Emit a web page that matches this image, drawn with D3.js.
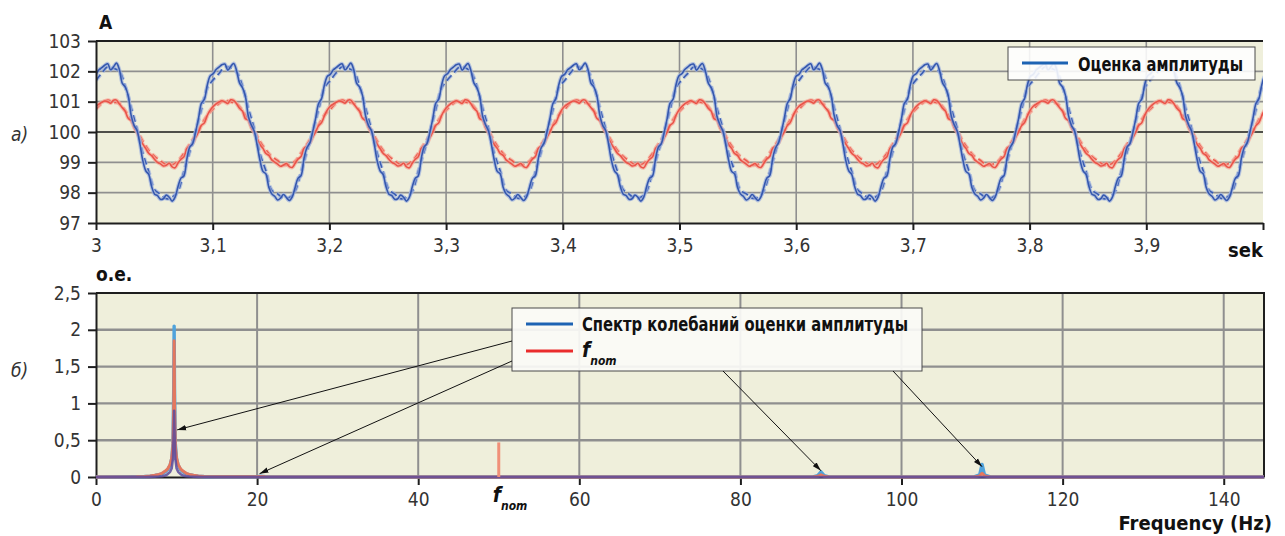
<!DOCTYPE html>
<html>
<head>
<meta charset="utf-8">
<script src="https://cdn.jsdelivr.net/npm/d3@7"></script>
<style>
    body { margin: 0; background: #ffffff; }
    svg { display: block; }
    .tick text { font-family: "Liberation Sans Narrow", "DejaVu Sans Condensed", sans-serif; font-size: 19px; fill: #333; }
    .bold-lbl { font-family: "Liberation Sans Narrow", "DejaVu Sans Condensed", sans-serif; font-weight: bold; fill: #111; }
    .side-lbl { font-family: "Liberation Sans Narrow", "DejaVu Sans Condensed", sans-serif; font-style: italic; font-size: 19px; fill: #333; }
</style>
</head>
<body>
<div id="chart"></div>
<script>
// ---------- data: top chart (amplitude estimate, A) ----------
const topTimeStart = 3.0;
const solidStep = 0.00251;   // seconds between samples of the solid curves
const dashedStep = 0.00502;  // seconds between samples of the dashed curves

const blueSolid = [
    101.90,102.05,102.12,102.20,102.25,102.05,102.15,102.27,102.05,101.60,101.48,101.20,100.55,100.22,100.05,99.60,99.05,98.72,98.60,98.20,97.95,97.90,97.78,97.80,97.92,97.85,97.72,97.85,98.20,98.48,98.55,99.10,99.50,99.62,100.00,100.45,100.95,101.08,101.55,101.85,
    101.92,102.06,102.14,102.22,102.24,102.04,102.16,102.26,102.02,101.62,101.46,101.18,100.52,100.24,100.03,99.58,99.06,98.70,98.62,98.18,97.96,97.88,97.76,97.82,97.94,97.84,97.74,97.86,98.18,98.48,98.56,99.12,99.48,99.64,100.02,100.46,100.94,101.10,101.56,101.84,
    101.90,102.05,102.12,102.20,102.25,102.05,102.15,102.27,102.05,101.60,101.48,101.20,100.55,100.22,100.05,99.60,99.05,98.72,98.60,98.20,97.95,97.90,97.78,97.80,97.92,97.85,97.72,97.85,98.20,98.48,98.55,99.10,99.50,99.62,100.00,100.45,100.95,101.08,101.55,101.85,
    101.92,102.06,102.14,102.22,102.24,102.04,102.16,102.26,102.02,101.62,101.46,101.18,100.52,100.24,100.03,99.58,99.06,98.70,98.62,98.18,97.96,97.88,97.76,97.82,97.94,97.84,97.74,97.86,98.18,98.48,98.56,99.12,99.48,99.64,100.02,100.46,100.94,101.10,101.56,101.84,
    101.90,102.05,102.12,102.20,102.25,102.05,102.15,102.27,102.05,101.60,101.48,101.20,100.55,100.22,100.05,99.60,99.05,98.72,98.60,98.20,97.95,97.90,97.78,97.80,97.92,97.85,97.72,97.85,98.20,98.48,98.55,99.10,99.50,99.62,100.00,100.45,100.95,101.08,101.55,101.85,
    101.92,102.06,102.14,102.22,102.24,102.04,102.16,102.26,102.02,101.62,101.46,101.18,100.52,100.24,100.03,99.58,99.06,98.70,98.62,98.18,97.96,97.88,97.76,97.82,97.94,97.84,97.74,97.86,98.18,98.48,98.56,99.12,99.48,99.64,100.02,100.46,100.94,101.10,101.56,101.84,
    101.90,102.05,102.12,102.20,102.25,102.05,102.15,102.27,102.05,101.60,101.48,101.20,100.55,100.22,100.05,99.60,99.05,98.72,98.60,98.20,97.95,97.90,97.78,97.80,97.92,97.85,97.72,97.85,98.20,98.48,98.55,99.10,99.50,99.62,100.00,100.45,100.95,101.08,101.55,101.85,
    101.92,102.06,102.14,102.22,102.24,102.04,102.16,102.26,102.02,101.62,101.46,101.18,100.52,100.24,100.03,99.58,99.06,98.70,98.62,98.18,97.96,97.88,97.76,97.82,97.94,97.84,97.74,97.86,98.18,98.48,98.56,99.12,99.48,99.64,100.02,100.46,100.94,101.10,101.56,101.84,
    101.90,102.05,102.12,102.20,102.25,102.05,102.15,102.27,102.05,101.60,101.48,101.20,100.55,100.22,100.05,99.60,99.05,98.72,98.60,98.20,97.95,97.90,97.78,97.80,97.92,97.85,97.72,97.85,98.20,98.48,98.55,99.10,99.50,99.62,100.00,100.45,100.95,101.08,101.55,101.85,
    101.92,102.06,102.14,102.22,102.24,102.04,102.16,102.26,102.02,101.62,101.46,101.18,100.52,100.24,100.03,99.58,99.06,98.70,98.62,98.18,97.96,97.88,97.76,97.82,97.94,97.84,97.74,97.86,98.18,98.48,98.56,99.12,99.48,99.64,100.02,100.46,100.94,101.10,101.56,101.84,
    101.90
];

const redSolid = [
    100.85,100.92,100.98,101.02,101.00,100.95,101.05,101.05,100.92,100.80,100.68,100.45,100.38,100.15,99.98,99.78,99.60,99.45,99.30,99.22,99.10,99.00,98.95,98.88,98.90,98.97,98.85,98.82,98.98,99.10,99.18,99.45,99.55,99.62,99.82,100.00,100.22,100.30,100.55,100.72,
    100.84,100.93,100.99,101.03,100.99,100.94,101.06,101.04,100.93,100.78,100.69,100.44,100.39,100.14,99.97,99.79,99.58,99.46,99.29,99.23,99.08,99.01,98.94,98.87,98.91,98.96,98.86,98.83,98.97,99.11,99.19,99.46,99.54,99.63,99.83,100.01,100.21,100.31,100.54,100.73,
    100.85,100.92,100.98,101.02,101.00,100.95,101.05,101.05,100.92,100.80,100.68,100.45,100.38,100.15,99.98,99.78,99.60,99.45,99.30,99.22,99.10,99.00,98.95,98.88,98.90,98.97,98.85,98.82,98.98,99.10,99.18,99.45,99.55,99.62,99.82,100.00,100.22,100.30,100.55,100.72,
    100.84,100.93,100.99,101.03,100.99,100.94,101.06,101.04,100.93,100.78,100.69,100.44,100.39,100.14,99.97,99.79,99.58,99.46,99.29,99.23,99.08,99.01,98.94,98.87,98.91,98.96,98.86,98.83,98.97,99.11,99.19,99.46,99.54,99.63,99.83,100.01,100.21,100.31,100.54,100.73,
    100.85,100.92,100.98,101.02,101.00,100.95,101.05,101.05,100.92,100.80,100.68,100.45,100.38,100.15,99.98,99.78,99.60,99.45,99.30,99.22,99.10,99.00,98.95,98.88,98.90,98.97,98.85,98.82,98.98,99.10,99.18,99.45,99.55,99.62,99.82,100.00,100.22,100.30,100.55,100.72,
    100.84,100.93,100.99,101.03,100.99,100.94,101.06,101.04,100.93,100.78,100.69,100.44,100.39,100.14,99.97,99.79,99.58,99.46,99.29,99.23,99.08,99.01,98.94,98.87,98.91,98.96,98.86,98.83,98.97,99.11,99.19,99.46,99.54,99.63,99.83,100.01,100.21,100.31,100.54,100.73,
    100.85,100.92,100.98,101.02,101.00,100.95,101.05,101.05,100.92,100.80,100.68,100.45,100.38,100.15,99.98,99.78,99.60,99.45,99.30,99.22,99.10,99.00,98.95,98.88,98.90,98.97,98.85,98.82,98.98,99.10,99.18,99.45,99.55,99.62,99.82,100.00,100.22,100.30,100.55,100.72,
    100.84,100.93,100.99,101.03,100.99,100.94,101.06,101.04,100.93,100.78,100.69,100.44,100.39,100.14,99.97,99.79,99.58,99.46,99.29,99.23,99.08,99.01,98.94,98.87,98.91,98.96,98.86,98.83,98.97,99.11,99.19,99.46,99.54,99.63,99.83,100.01,100.21,100.31,100.54,100.73,
    100.85,100.92,100.98,101.02,101.00,100.95,101.05,101.05,100.92,100.80,100.68,100.45,100.38,100.15,99.98,99.78,99.60,99.45,99.30,99.22,99.10,99.00,98.95,98.88,98.90,98.97,98.85,98.82,98.98,99.10,99.18,99.45,99.55,99.62,99.82,100.00,100.22,100.30,100.55,100.72,
    100.84,100.93,100.99,101.03,100.99,100.94,101.06,101.04,100.93,100.78,100.69,100.44,100.39,100.14,99.97,99.79,99.58,99.46,99.29,99.23,99.08,99.01,98.94,98.87,98.91,98.96,98.86,98.83,98.97,99.11,99.19,99.46,99.54,99.63,99.83,100.01,100.21,100.31,100.54,100.73,
    100.85
];

const blueDashed = [
    101.70,101.95,102.15,102.10,102.00,101.50,100.80,100.10,99.30,98.70,98.10,97.95,97.80,97.85,98.05,98.70,99.35,100.00,100.75,101.45,
    101.72,101.93,102.14,102.12,101.98,101.52,100.78,100.12,99.28,98.72,98.08,97.96,97.82,97.84,98.06,98.68,99.36,100.02,100.74,101.46,
    101.70,101.95,102.15,102.10,102.00,101.50,100.80,100.10,99.30,98.70,98.10,97.95,97.80,97.85,98.05,98.70,99.35,100.00,100.75,101.45,
    101.72,101.93,102.14,102.12,101.98,101.52,100.78,100.12,99.28,98.72,98.08,97.96,97.82,97.84,98.06,98.68,99.36,100.02,100.74,101.46,
    101.70,101.95,102.15,102.10,102.00,101.50,100.80,100.10,99.30,98.70,98.10,97.95,97.80,97.85,98.05,98.70,99.35,100.00,100.75,101.45,
    101.72,101.93,102.14,102.12,101.98,101.52,100.78,100.12,99.28,98.72,98.08,97.96,97.82,97.84,98.06,98.68,99.36,100.02,100.74,101.46,
    101.70,101.95,102.15,102.10,102.00,101.50,100.80,100.10,99.30,98.70,98.10,97.95,97.80,97.85,98.05,98.70,99.35,100.00,100.75,101.45,
    101.72,101.93,102.14,102.12,101.98,101.52,100.78,100.12,99.28,98.72,98.08,97.96,97.82,97.84,98.06,98.68,99.36,100.02,100.74,101.46,
    101.70,101.95,102.15,102.10,102.00,101.50,100.80,100.10,99.30,98.70,98.10,97.95,97.80,97.85,98.05,98.70,99.35,100.00,100.75,101.45,
    101.72,101.93,102.14,102.12,101.98,101.52,100.78,100.12,99.28,98.72,98.08,97.96,97.82,97.84,98.06,98.68,99.36,100.02,100.74,101.46,
    101.70
];

const redDashed = [
    100.75,100.95,101.05,100.98,100.95,100.70,100.40,100.05,99.70,99.40,99.20,99.05,98.92,98.92,99.05,99.30,99.60,99.90,100.25,100.55,
    100.76,100.94,101.04,100.99,100.94,100.71,100.39,100.06,99.69,99.41,99.19,99.06,98.91,98.93,99.04,99.31,99.59,99.91,100.24,100.56,
    100.75,100.95,101.05,100.98,100.95,100.70,100.40,100.05,99.70,99.40,99.20,99.05,98.92,98.92,99.05,99.30,99.60,99.90,100.25,100.55,
    100.76,100.94,101.04,100.99,100.94,100.71,100.39,100.06,99.69,99.41,99.19,99.06,98.91,98.93,99.04,99.31,99.59,99.91,100.24,100.56,
    100.75,100.95,101.05,100.98,100.95,100.70,100.40,100.05,99.70,99.40,99.20,99.05,98.92,98.92,99.05,99.30,99.60,99.90,100.25,100.55,
    100.76,100.94,101.04,100.99,100.94,100.71,100.39,100.06,99.69,99.41,99.19,99.06,98.91,98.93,99.04,99.31,99.59,99.91,100.24,100.56,
    100.75,100.95,101.05,100.98,100.95,100.70,100.40,100.05,99.70,99.40,99.20,99.05,98.92,98.92,99.05,99.30,99.60,99.90,100.25,100.55,
    100.76,100.94,101.04,100.99,100.94,100.71,100.39,100.06,99.69,99.41,99.19,99.06,98.91,98.93,99.04,99.31,99.59,99.91,100.24,100.56,
    100.75,100.95,101.05,100.98,100.95,100.70,100.40,100.05,99.70,99.40,99.20,99.05,98.92,98.92,99.05,99.30,99.60,99.90,100.25,100.55,
    100.76,100.94,101.04,100.99,100.94,100.71,100.39,100.06,99.69,99.41,99.19,99.06,98.91,98.93,99.04,99.31,99.59,99.91,100.24,100.56,
    100.75
];

const topXTicks = [3, 3.1, 3.2, 3.3, 3.4, 3.5, 3.6, 3.7, 3.8, 3.9, 4];
const topXLabels = ["3", "3,1", "3,2", "3,3", "3,4", "3,5", "3,6", "3,7", "3,8", "3,9", ""];
const topYTicks = [97, 98, 99, 100, 101, 102, 103];

// ---------- data: bottom chart (spectrum, o.e.) ----------
const specFreq   = [0, 5, 6, 6.7, 7.3, 7.8, 8.2, 8.6, 8.9, 9.2, 9.4, 9.55, 9.65, 9.7, 9.75, 9.85, 10.0, 10.2, 10.5, 10.8, 11.2, 11.6, 12.1, 12.7, 13.4, 15, 20, 20.4, 21, 30, 89, 89.6, 90, 90.4, 91, 109, 109.7, 110, 110.3, 111, 145];
const specBlue   = [0, 0.003, 0.006, 0.012, 0.02, 0.03, 0.045, 0.07, 0.1, 0.16, 0.25, 0.45, 1.2, 2.05, 1.2, 0.45, 0.25, 0.16, 0.1, 0.07, 0.045, 0.03, 0.02, 0.012, 0.006, 0.003, 0.004, 0.01, 0.003, 0.001, 0.002, 0.02, 0.07, 0.02, 0.002, 0.002, 0.03, 0.17, 0.03, 0.002, 0];
const specRed    = [0, 0.003, 0.007, 0.014, 0.024, 0.035, 0.05, 0.08, 0.11, 0.17, 0.26, 0.42, 1.0, 1.85, 1.0, 0.42, 0.26, 0.17, 0.11, 0.08, 0.05, 0.035, 0.024, 0.014, 0.007, 0.003, 0.003, 0.006, 0.002, 0.001, 0.001, 0.01, 0.03, 0.01, 0.001, 0.001, 0.015, 0.05, 0.015, 0.001, 0];
const specPurple = [0, 0, 0.001, 0.002, 0.004, 0.006, 0.01, 0.02, 0.04, 0.07, 0.12, 0.25, 0.6, 0.9, 0.6, 0.25, 0.12, 0.07, 0.04, 0.02, 0.01, 0.006, 0.004, 0.002, 0.001, 0, 0, 0, 0, 0, 0, 0, 0, 0, 0, 0, 0, 0, 0, 0, 0];
const fnomFreq = 50;
const fnomValue = 0.47;

const botXTicks = [0, 20, 40, 60, 80, 100, 120, 140];
const botYTicks = [0, 0.5, 1, 1.5, 2, 2.5];

const legendTopText = "Оценка амплитуды";
const legendBotText = "Спектр колебаний оценки амплитуды";

// ---------- canvas ----------
const width = 1285;
const height = 536;
const svg = d3.select("#chart").append("svg")
    .attr("width", width)
    .attr("height", height);

const plotBg = "#efefdb";
const gridColor = "#8f8f8f";
const axisColor = "#1e1e1e";
const commaFmt = d => String(d).replace(".", ",");

const defs = svg.append("defs");
defs.append("clipPath").attr("id", "clipTop")
    .append("rect").attr("x", 96).attr("y", 39).attr("width", 1167).attr("height", 186);
defs.append("marker")
    .attr("id", "arrow")
    .attr("viewBox", "0 0 10 6")
    .attr("refX", 10).attr("refY", 3)
    .attr("markerWidth", 9).attr("markerHeight", 6)
    .attr("markerUnits", "userSpaceOnUse")
    .attr("orient", "auto")
    .append("path").attr("d", "M0,0 L10,3 L0,6 Z").attr("fill", "#111");

// ================= top chart =================
const xTop = d3.scaleLinear().domain([3, 4]).range([96, 1263]);
const yTop = d3.scaleLinear().domain([97, 103]).range([223, 41]);

const topPlot = svg.append("g");
topPlot.append("rect")
    .attr("x", xTop(3)).attr("y", yTop(103))
    .attr("width", xTop(4) - xTop(3)).attr("height", yTop(97) - yTop(103))
    .attr("fill", plotBg);

// grid
topPlot.selectAll(".vgrid").data(topXTicks.slice(1, -1)).enter().append("line")
    .attr("x1", d => xTop(d)).attr("x2", d => xTop(d))
    .attr("y1", yTop(97)).attr("y2", yTop(103))
    .attr("stroke", gridColor).attr("stroke-width", 1.6);
topPlot.selectAll(".hgrid").data(topYTicks.filter(d => d !== 97 && d !== 103)).enter().append("line")
    .attr("x1", xTop(3)).attr("x2", xTop(4))
    .attr("y1", d => yTop(d)).attr("y2", d => yTop(d))
    .attr("stroke", d => d === 100 ? "#1a1a1a" : gridColor)
    .attr("stroke-width", 1.6);
// top border
topPlot.append("line")
    .attr("x1", xTop(3)).attr("x2", xTop(4))
    .attr("y1", yTop(103)).attr("y2", yTop(103))
    .attr("stroke", axisColor).attr("stroke-width", 2);

// curves
const topLine = d3.line()
    .x(d => xTop(d[0]))
    .y(d => yTop(d[1]))
    .curve(d3.curveCatmullRom.alpha(0.5));

const toPoints = (values, step) => values.map((v, i) => [topTimeStart + i * step, v]);

const curves = [
    {values: redDashed, step: dashedStep, core: "#ec5c4f", halo: "#f5a898", dash: "7,4"},
    {values: redSolid, step: solidStep, core: "#ea5449", halo: "#f5a898", dash: null},
    {values: blueDashed, step: dashedStep, core: "#3a5db3", halo: "#9db0de", dash: "7,4"},
    {values: blueSolid, step: solidStep, core: "#3558ae", halo: "#9db0de", dash: null}
];

const curveLayer = topPlot.append("g").attr("clip-path", "url(#clipTop)");
curves.forEach(c => {
    const pts = toPoints(c.values, c.step);
    curveLayer.append("path")
        .attr("d", topLine(pts))
        .attr("fill", "none")
        .attr("stroke", c.halo)
        .attr("stroke-width", 3.8)
        .attr("stroke-opacity", 0.7)
        .attr("stroke-dasharray", c.dash);
    curveLayer.append("path")
        .attr("d", topLine(pts))
        .attr("fill", "none")
        .attr("stroke", c.core)
        .attr("stroke-width", 1.6)
        .attr("stroke-dasharray", c.dash);
});

// axes
const xAxisTop = d3.axisBottom(xTop)
    .tickValues(topXTicks)
    .tickFormat((d, i) => topXLabels[i])
    .tickSize(7).tickSizeOuter(0).tickPadding(9);
topPlot.append("g")
    .attr("transform", `translate(0, ${yTop(97)})`)
    .call(xAxisTop)
    .call(g => g.selectAll("line, path").attr("stroke", axisColor).attr("stroke-width", 2));

const yAxisTop = d3.axisLeft(yTop)
    .tickValues(topYTicks)
    .tickFormat(d3.format("d"))
    .tickSize(8).tickSizeOuter(0).tickPadding(7);
topPlot.append("g")
    .attr("transform", `translate(${xTop(3)}, 0)`)
    .call(yAxisTop)
    .call(g => g.selectAll("line, path").attr("stroke", axisColor).attr("stroke-width", 2));

topPlot.selectAll(".tick text").attr("font-family", null).attr("font-size", null);

// labels
topPlot.append("text").attr("class", "bold-lbl")
    .attr("x", 99).attr("y", 29).attr("font-size", 19).text("A");
topPlot.append("text").attr("class", "side-lbl")
    .attr("x", 11).attr("y", 141).text("a)");
topPlot.append("text").attr("class", "bold-lbl")
    .attr("x", xTop(4)).attr("y", 257).attr("text-anchor", "end")
    .attr("font-size", 20).text("sek");

// legend
const legTop = topPlot.append("g").attr("transform", "translate(1008, 47)");
legTop.append("rect")
    .attr("width", 247).attr("height", 33)
    .attr("fill", "#ffffff").attr("fill-opacity", 0.88)
    .attr("stroke", "#4a4a4a").attr("stroke-width", 1);
legTop.append("line")
    .attr("x1", 14).attr("x2", 60).attr("y1", 16).attr("y2", 16)
    .attr("stroke", "#1d63b3").attr("stroke-width", 3);
legTop.append("text").attr("class", "bold-lbl")
    .attr("x", 70).attr("y", 24).attr("font-size", 20)
    .attr("textLength", 165).attr("lengthAdjust", "spacingAndGlyphs")
    .text(legendTopText);

// ================= bottom chart =================
const xBot = d3.scaleLinear().domain([0, 145]).range([96, 1264]);
const yBot = d3.scaleLinear().domain([0, 2.5]).range([477, 293]);

const botPlot = svg.append("g");
botPlot.append("rect")
    .attr("x", xBot(0)).attr("y", yBot(2.5))
    .attr("width", xBot(145) - xBot(0)).attr("height", yBot(0) - yBot(2.5))
    .attr("fill", plotBg);

botPlot.selectAll(".vgrid").data(botXTicks.slice(1)).enter().append("line")
    .attr("x1", d => xBot(d)).attr("x2", d => xBot(d))
    .attr("y1", yBot(0)).attr("y2", yBot(2.5))
    .attr("stroke", gridColor).attr("stroke-width", 2);
botPlot.selectAll(".hgrid").data(botYTicks.slice(1, -1)).enter().append("line")
    .attr("x1", xBot(0)).attr("x2", xBot(145))
    .attr("y1", d => yBot(d)).attr("y2", d => yBot(d))
    .attr("stroke", gridColor).attr("stroke-width", 2.4);
// frame: top and right
botPlot.append("path")
    .attr("d", `M${xBot(0)},${yBot(2.5)} H${xBot(145)} V${yBot(0)}`)
    .attr("fill", "none").attr("stroke", axisColor).attr("stroke-width", 2);

// axes
const xAxisBot = d3.axisBottom(xBot)
    .tickValues(botXTicks)
    .tickFormat(d3.format("d"))
    .tickSize(8).tickSizeOuter(0).tickPadding(8);
botPlot.append("g")
    .attr("transform", `translate(0, ${yBot(0)})`)
    .call(xAxisBot)
    .call(g => g.selectAll("line, path").attr("stroke", axisColor).attr("stroke-width", 2));

const yAxisBot = d3.axisLeft(yBot)
    .tickValues(botYTicks)
    .tickFormat(commaFmt)
    .tickSize(8).tickSizeOuter(0).tickPadding(7);
botPlot.append("g")
    .attr("transform", `translate(${xBot(0)}, 0)`)
    .call(yAxisBot)
    .call(g => g.selectAll("line, path").attr("stroke", axisColor).attr("stroke-width", 2));

botPlot.selectAll(".tick text").attr("font-family", null).attr("font-size", null);

// spectra
const specLine = d3.line()
    .x(d => xBot(d[0]))
    .y(d => yBot(d[1]));

const spectra = [
    {values: specBlue, color: "#4fa3dc", width: 3.4, opacity: 1},
    {values: specRed, color: "#ec7556", width: 3.0, opacity: 0.95},
    {values: specPurple, color: "#5a4a9c", width: 2.6, opacity: 0.85}
];
spectra.forEach(s => {
    botPlot.append("path")
        .attr("d", specLine(specFreq.map((f, i) => [f, s.values[i]])))
        .attr("fill", "none")
        .attr("stroke", s.color)
        .attr("stroke-width", s.width)
        .attr("stroke-opacity", s.opacity)
        .attr("stroke-linejoin", "round");
});

// f_nom marker
botPlot.append("line")
    .attr("x1", xBot(fnomFreq)).attr("x2", xBot(fnomFreq))
    .attr("y1", yBot(0)).attr("y2", yBot(fnomValue))
    .attr("stroke", "#f09078").attr("stroke-width", 3);

// labels
botPlot.append("text").attr("class", "bold-lbl")
    .attr("x", 96).attr("y", 281).attr("font-size", 19).text("o.e.");
botPlot.append("text").attr("class", "side-lbl")
    .attr("x", 11).attr("y", 377).text("б)");
botPlot.append("text").attr("class", "bold-lbl")
    .attr("x", 1272).attr("y", 530).attr("text-anchor", "end")
    .attr("font-size", 20).text("Frequency (Hz)");

const fnomLbl = botPlot.append("text").attr("class", "bold-lbl")
    .attr("x", xBot(fnomFreq) - 6).attr("y", 502)
    .attr("font-style", "italic").attr("font-size", 21);
fnomLbl.append("tspan").text("f");
fnomLbl.append("tspan").attr("dy", 8).attr("font-size", 12).text("nom");

// legend
const legBot = botPlot.append("g").attr("transform", "translate(512, 308)");
legBot.append("rect")
    .attr("width", 410).attr("height", 63)
    .attr("fill", "#fbfbf7").attr("fill-opacity", 0.92)
    .attr("stroke", "#4a4a4a").attr("stroke-width", 1);
legBot.append("line")
    .attr("x1", 14).attr("x2", 61).attr("y1", 16).attr("y2", 16)
    .attr("stroke", "#1d63b3").attr("stroke-width", 3);
legBot.append("line")
    .attr("x1", 14).attr("x2", 61).attr("y1", 43).attr("y2", 43)
    .attr("stroke", "#ea2c2c").attr("stroke-width", 3);
legBot.append("text").attr("class", "bold-lbl")
    .attr("x", 70).attr("y", 23).attr("font-size", 20)
    .attr("textLength", 326).attr("lengthAdjust", "spacingAndGlyphs")
    .text(legendBotText);
const legF = legBot.append("text").attr("class", "bold-lbl")
    .attr("x", 70).attr("y", 49).attr("font-style", "italic").attr("font-size", 21);
legF.append("tspan").text("f");
legF.append("tspan").attr("dy", 8).attr("font-size", 12).text("nom");

// arrows from legend to spectrum features
const arrows = [
    {from: [512, 341], to: [xBot(9.7) + 3, yBot(0.64)]},
    {from: [512, 361], to: [xBot(20.3), yBot(0.045)]},
    {from: [723, 371], to: [xBot(90), yBot(0.085)]},
    {from: [893, 371], to: [xBot(110), yBot(0.14)]}
];
botPlot.selectAll(".arrow").data(arrows).enter().append("line")
    .attr("x1", d => d.from[0]).attr("y1", d => d.from[1])
    .attr("x2", d => d.to[0]).attr("y2", d => d.to[1])
    .attr("stroke", "#111").attr("stroke-width", 1)
    .attr("marker-end", "url(#arrow)");
</script>
</body>
</html>
